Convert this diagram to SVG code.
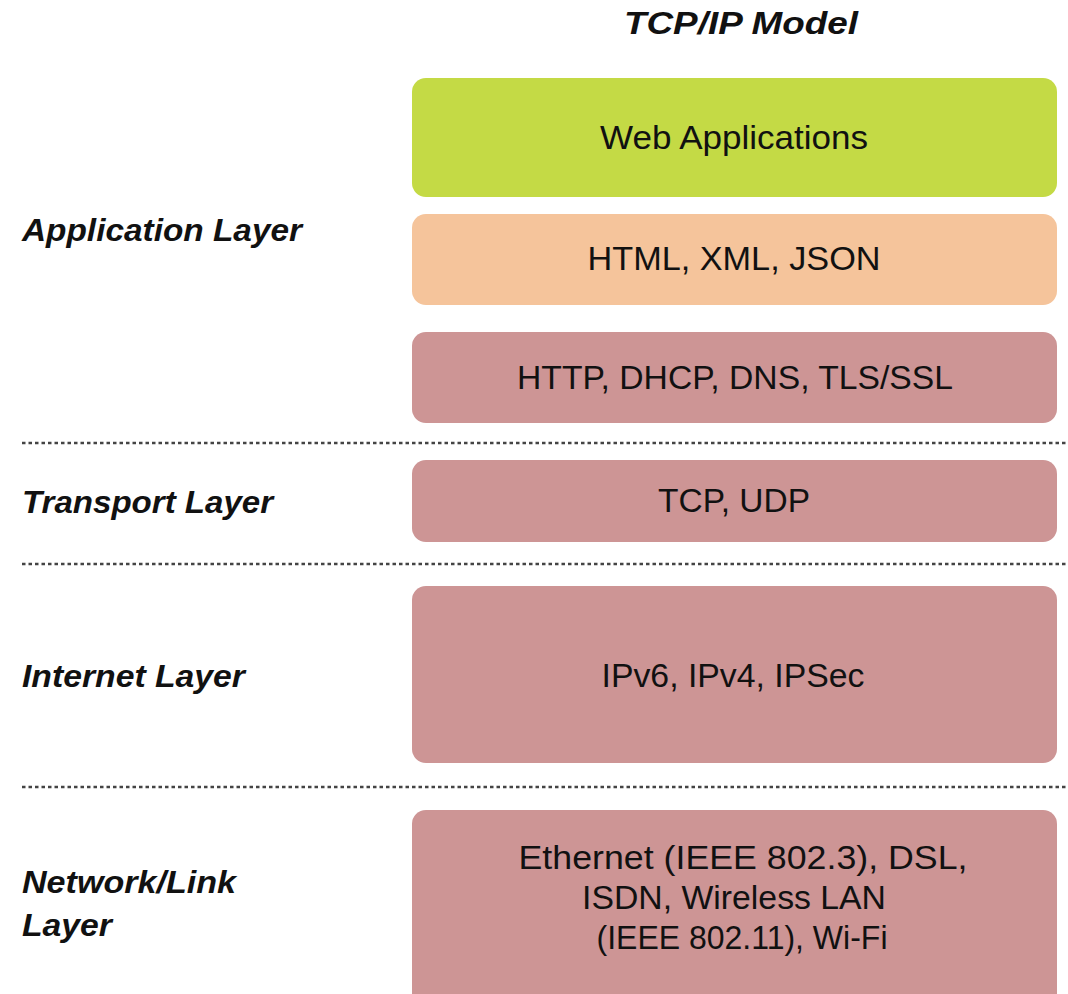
<svg xmlns="http://www.w3.org/2000/svg" width="1068" height="994" viewBox="0 0 1068 994">
  <style>
    .box { stroke: none; }
    .app { fill: #c4da45; }
    .fmt { fill: #f5c49b; }
    .proto { fill: #cd9595; }
    .txt { font-family: "Liberation Sans", Arial, sans-serif; font-size: 33px; fill: #111; text-anchor: middle; }
    .lbl { font-family: "Liberation Sans", Arial, sans-serif; font-size: 31px; font-weight: bold; font-style: italic; fill: #111; }
    .ttl { font-family: "Liberation Sans", Arial, sans-serif; font-size: 32px; font-weight: bold; font-style: italic; fill: #111; }
    .sep { stroke: #444; stroke-width: 2.5; stroke-dasharray: 3.5 3; fill: none; }
  </style>

  <rect width="1068" height="994" fill="#ffffff"/>

  <text id="title" class="ttl" x="624" y="34" textLength="234" lengthAdjust="spacingAndGlyphs">TCP/IP Model</text>

  <!-- layer names -->
  <g id="layer-labels">
    <text class="lbl" x="22" y="241" textLength="280" lengthAdjust="spacingAndGlyphs">Application Layer</text>
    <text class="lbl" x="22" y="513" textLength="251" lengthAdjust="spacingAndGlyphs">Transport Layer</text>
    <text class="lbl" x="22" y="687" textLength="223" lengthAdjust="spacingAndGlyphs">Internet Layer</text>
    <text class="lbl" x="22" y="893" textLength="214" lengthAdjust="spacingAndGlyphs">Network/Link</text>
    <text class="lbl" x="22" y="936" textLength="90" lengthAdjust="spacingAndGlyphs">Layer</text>
  </g>

  <!-- layer separators -->
  <g id="separators">
    <line class="sep" x1="22" y1="443" x2="1066" y2="443"/>
    <line class="sep" x1="22" y1="564" x2="1066" y2="564"/>
    <line class="sep" x1="22" y1="787" x2="1066" y2="787"/>
  </g>

  <g id="web-applications">
    <rect class="box app" x="412" y="78" width="645" height="119" rx="14"/>
    <text class="txt" x="734" y="149" textLength="268" lengthAdjust="spacingAndGlyphs">Web Applications</text>
  </g>

  <g id="data-formats">
    <rect class="box fmt" x="412" y="214" width="645" height="91" rx="14"/>
    <text class="txt" x="734" y="270" textLength="293" lengthAdjust="spacingAndGlyphs">HTML, XML, JSON</text>
  </g>

  <g id="app-protocols">
    <rect class="box proto" x="412" y="332" width="645" height="91" rx="14"/>
    <text class="txt" x="735" y="389" textLength="436" lengthAdjust="spacingAndGlyphs">HTTP, DHCP, DNS, TLS/SSL</text>
  </g>

  <g id="transport">
    <rect class="box proto" x="412" y="460" width="645" height="82" rx="14"/>
    <text class="txt" x="734" y="512" textLength="152" lengthAdjust="spacingAndGlyphs">TCP, UDP</text>
  </g>

  <g id="internet">
    <rect class="box proto" x="412" y="586" width="645" height="177" rx="14"/>
    <text class="txt" x="733" y="687" textLength="263" lengthAdjust="spacingAndGlyphs">IPv6, IPv4, IPSec</text>
  </g>

  <g id="link">
    <rect class="box proto" x="412" y="810" width="645" height="200" rx="14"/>
    <text class="txt" x="743" y="869" textLength="449" lengthAdjust="spacingAndGlyphs">Ethernet (IEEE 802.3), DSL,</text>
    <text class="txt" x="734" y="909" textLength="304" lengthAdjust="spacingAndGlyphs">ISDN, Wireless LAN</text>
    <text class="txt" x="742" y="949" textLength="291" lengthAdjust="spacingAndGlyphs">(IEEE 802.11), Wi-Fi</text>
  </g>
</svg>
